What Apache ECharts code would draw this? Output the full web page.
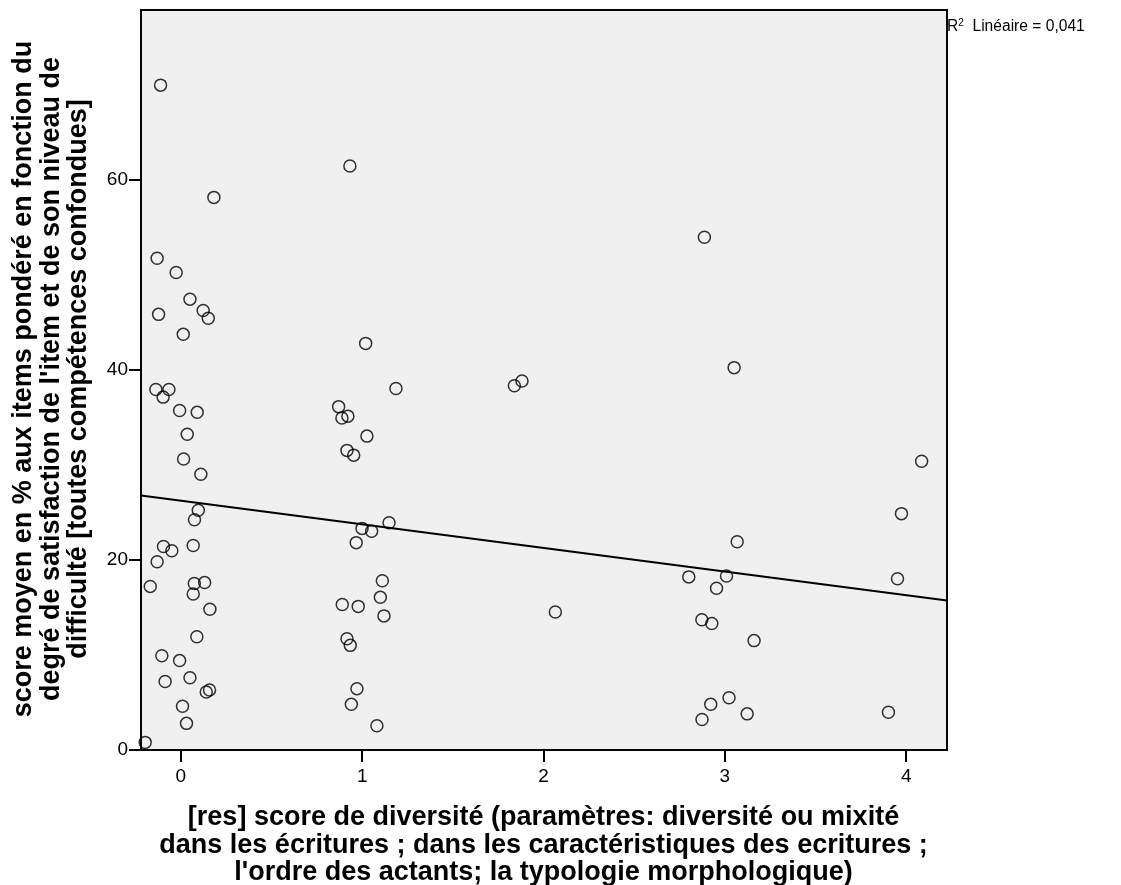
<!DOCTYPE html>
<html>
<head>
<meta charset="utf-8">
<script src="https://cdn.jsdelivr.net/npm/echarts@6/dist/echarts.min.js"></script>
<style>
  html, body { margin: 0; padding: 0; background: #ffffff; }
  #chart { width: 1121px; height: 885px; }
</style>
</head>
<body>
<div id="chart"></div>
<script>
// Diversity score (x) and weighted satisfaction score in % (y), one entry per case
const diversite = [
  -0.112, 0.182, -0.131, -0.026, 0.050, 0.123, 0.151, -0.123, 0.013,
  -0.138, -0.066, -0.098, -0.007, 0.090, 0.035, 0.015, 0.110, 0.096, 0.075,
  -0.096, -0.050, 0.068, -0.131, -0.169, 0.074, 0.131, 0.068, 0.160, 0.088,
  -0.105, -0.007, -0.087, 0.050, 0.140, 0.158, 0.009, 0.031, -0.197,
  0.932, 1.019, 1.186, 0.870, 0.921, 0.888, 1.026, 0.916, 0.953, 1.148,
  0.999, 1.052, 0.967, 1.111, 1.100, 0.890, 0.978, 1.120, 0.916, 0.934,
  0.971, 0.940, 1.081,
  1.881, 1.839, 2.065,
  2.887, 3.051, 3.068, 2.801, 3.009, 2.954, 2.873, 2.928, 3.161, 3.023,
  2.922, 3.123, 2.874,
  4.085, 3.974, 3.952, 3.902
];
const score = [
  69.9, 58.1, 51.7, 50.2, 47.4, 46.2, 45.4, 45.8, 43.7,
  37.9, 37.9, 37.1, 35.7, 35.5, 33.2, 30.6, 29.0, 25.2, 24.2,
  21.4, 20.95, 21.5, 19.8, 17.2, 17.5, 17.6, 16.4, 14.8, 11.9,
  9.9, 9.4, 7.2, 7.6, 6.1, 6.3, 4.6, 2.8, 0.8,
  61.4, 42.75, 38.0, 36.1, 35.1, 34.9, 33.0, 31.5, 31.0, 23.9,
  23.3, 23.0, 21.8, 17.8, 16.05, 15.3, 15.1, 14.1, 11.7, 11.0,
  6.45, 4.8, 2.55,
  38.8, 38.3, 14.5,
  53.9, 40.2, 21.9, 18.2, 18.3, 17.0, 13.7, 13.3, 11.5, 5.5,
  4.8, 3.8, 3.2,
  30.35, 24.85, 18.0, 3.96
];

// Linear fit line: [intercept, slope], and its R² as printed
const fitCoef = [26.2, -2.48];
const r2Label = '0,041';

// Axis ranges and tick labels
const xRange = [-0.22, 4.225];
const yRange = [0, 77.8];
const xTicks = [0, 1, 2, 3, 4];
const yTicks = [0, 20, 40, 60];

const xTitle = '[res] score de diversité (paramètres: diversité ou mixité\ndans les écritures ; dans les caractéristiques des ecritures ;\nl\'ordre des actants; la typologie morphologique)';
const yTitle = 'score moyen en % aux items pondéré en fonction du\ndegré de satisfaction de l\'item et de son niveau de\ndifficulté [toutes compétences confondues]';

const fitLine = xRange.map(x => [x, fitCoef[0] + fitCoef[1] * x]);
const points = diversite.map((x, i) => [x, score[i]]);

const FONT = '"Liberation Sans", Arial, sans-serif';

const chart = echarts.init(document.getElementById('chart'), null, { renderer: 'canvas' });
chart.setOption({
  animation: false,
  backgroundColor: '#ffffff',
  grid: {
    left: 141, top: 10, right: 174, bottom: 135,
    show: true, backgroundColor: '#f0f0f0', borderColor: '#000000', borderWidth: 2
  },
  xAxis: {
    type: 'value', min: xRange[0], max: xRange[1],
    axisLine: { show: true, onZero: false, lineStyle: { color: '#000', width: 2 } },
    axisTick: { show: true, length: 12, lineStyle: { color: '#000', width: 2 }, customValues: xTicks },
    axisLabel: { color: '#000', fontSize: 19, fontFamily: FONT, margin: 17, customValues: xTicks },
    splitLine: { show: false }
  },
  yAxis: {
    type: 'value', min: yRange[0], max: yRange[1],
    axisLine: { show: true, onZero: false, lineStyle: { color: '#000', width: 2 } },
    axisTick: { show: true, length: 12, lineStyle: { color: '#000', width: 2 }, customValues: yTicks },
    axisLabel: { color: '#000', fontSize: 19, fontFamily: FONT, margin: 13, customValues: yTicks },
    splitLine: { show: false }
  },
  graphic: [
    {
      type: 'text', left: 947, top: 18,
      style: {
        text: '{r|R}{s|2}{r|  Linéaire = ' + r2Label + '}',
        rich: {
          r: { fontSize: 15.6, fontFamily: FONT, fill: '#000' },
          s: { fontSize: 10, fontFamily: FONT, fill: '#000', verticalAlign: 'top', padding: [0, 0, 7, 0] }
        }
      }
    },
    {
      type: 'text', x: 543.5, y: 845.5,
      style: {
        text: xTitle, align: 'center', verticalAlign: 'middle',
        font: 'bold 27px ' + FONT, lineHeight: 27.5, fill: '#000'
      }
    },
    {
      type: 'text', x: 51.5, y: 379, rotation: Math.PI / 2,
      style: {
        text: yTitle, align: 'center', verticalAlign: 'middle',
        font: 'bold 27px ' + FONT, lineHeight: 27.5, fill: '#000'
      }
    }
  ],
  series: [
    {
      type: 'scatter', data: points, symbol: 'circle', symbolSize: 12,
      itemStyle: { color: 'rgba(0,0,0,0)', borderColor: '#000', borderWidth: 1.5 },
      clip: false, z: 3
    },
    {
      type: 'line', data: fitLine, symbol: 'none',
      lineStyle: { color: '#000', width: 2 }, z: 2
    }
  ]
});
</script>
</body>
</html>
